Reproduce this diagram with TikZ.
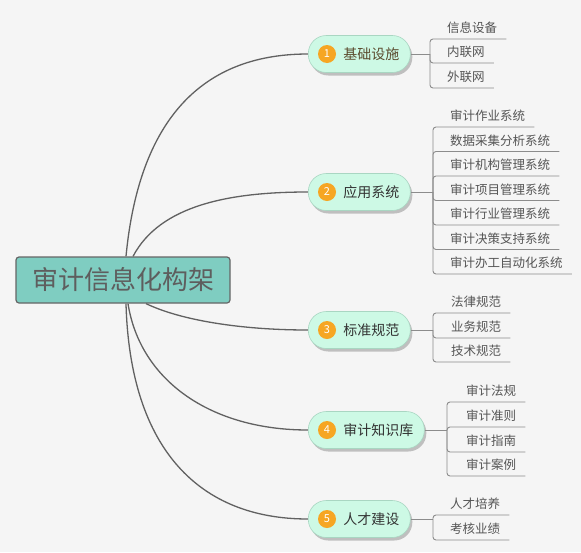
\documentclass[tikz,border=0pt]{standalone}
\usepackage{fontspec}
\setmainfont{Noto Sans CJK SC}
\usetikzlibrary{calc,shadows,backgrounds}
\definecolor{bgcol}{HTML}{F5F5F5}
\definecolor{rootfill}{HTML}{7FCDC1}
\definecolor{rootborder}{HTML}{666666}
\definecolor{roottext}{HTML}{5E5E5E}
\definecolor{pillfill}{HTML}{CDF9E5}
\definecolor{pillborder}{HTML}{A9D6C2}
\definecolor{pilltext}{HTML}{333333}
\definecolor{pilltextA}{HTML}{5B4B2E}
\definecolor{numfill}{HTML}{F6A623}
\definecolor{leaftext}{HTML}{555555}
\definecolor{trunkcol}{HTML}{616161}
\definecolor{twigcol}{HTML}{8C8C8C}
\begin{document}
\begin{tikzpicture}[x=1pt,y=-1pt,
  rootbox/.style={draw=rootborder, line width=1.2pt, fill=rootfill, rounded corners=3pt,
    minimum width=214pt, minimum height=46pt, inner sep=0pt,
    font=\fontsize{26}{30}\selectfont, text=roottext},
  pill/.style={draw=pillborder, line width=0.6pt, fill=pillfill, rounded corners=18pt,
    minimum height=37pt, inner xsep=11pt, anchor=west,
    font=\fontsize{14}{16}\selectfont, text=pilltext,
    drop shadow={shadow xshift=2pt, shadow yshift=-3pt, opacity=0.22, fill=black}},
  numdot/.style={circle, fill=numfill, minimum size=18pt, inner sep=0pt, text=white,
    font=\fontsize{11}{12}\selectfont},
  leaf/.style={anchor=west, inner sep=0pt, font=\fontsize{12.5}{14}\selectfont, text=leaftext},
  trunk/.style={draw=trunkcol, line width=1.3pt},
  twig/.style={draw=twigcol, line width=0.9pt, rounded corners=3pt},
]
\useasboundingbox (0,0) rectangle (581,552);

% root
\node[rootbox] (root) at (123,280) {审计信息化构架};

% branch pills
\node[pill, text=pilltextA] (p1) at (308,54) {\hspace*{24pt}基础设施};
\node[pill] (p2) at (308,192) {\hspace*{24pt}应用系统};
\node[pill] (p3) at (308,330) {\hspace*{24pt}标准规范};
\node[pill] (p4) at (308,430) {\hspace*{24pt}审计知识库};
\node[pill] (p5) at (308,519) {\hspace*{24pt}人才建设};

\node[numdot] (n1) at (327,54) {1};
\node[numdot] (n2) at (327,192) {2};
\node[numdot] (n3) at (327,330) {3};
\node[numdot] (n4) at (327,430) {4};
\node[numdot] (n5) at (327,519) {5};

% bracket points
\coordinate (b1) at (430,54);
\coordinate (b2) at (433,192);
\coordinate (b3) at (433,330);
\coordinate (b4) at (447,430);
\coordinate (b5) at (433,519);

\begin{scope}[on background layer]
\fill[bgcol] (0,0) rectangle (581,552);
\draw[trunk] ([xshift=3pt]root.north) .. controls (140,110) and (210,54) .. (p1.west);
\draw[trunk] ([xshift=10pt]root.north) .. controls (160,205) and (230,192) .. (p2.west);
\draw[trunk] ([xshift=23pt]root.south) .. controls (180,320) and (240,330) .. (p3.west);
\draw[trunk] ([xshift=5pt]root.south) .. controls (140,380) and (210,430) .. (p4.west);
\draw[trunk] ([xshift=3pt]root.south) .. controls (130,450) and (200,519) .. (p5.west);
\end{scope}

\draw[twig] (p1.east) -- (b1);
\draw[twig] (p2.east) -- (b2);
\draw[twig] (p3.east) -- (b3);
\draw[twig] (p4.east) -- (b4);
\draw[twig] (p5.east) -- (b5);

% leaves of branch 1
\foreach \i/\y/\t in {1/39/信息设备, 2/63/内联网, 3/88/外联网}{
  \node[leaf] (la\i) at (447,\y-11) {\t};
  \draw[twig] (b1) |- ($(la\i.east)+(9,11)$);
}
% leaves of branch 2
\foreach \i/\y/\t in {1/127/审计作业系统, 2/151.5/数据采集分析系统, 3/176/审计机构管理系统,
  4/200.5/审计项目管理系统, 5/225/审计行业管理系统, 6/249.5/审计决策支持系统, 7/274/审计办工自动化系统}{
  \node[leaf] (lb\i) at (450,\y-11) {\t};
  \draw[twig] (b2) |- ($(lb\i.east)+(9,11)$);
}
% leaves of branch 3
\foreach \i/\y/\t in {1/313/法律规范, 2/338/业务规范, 3/362/技术规范}{
  \node[leaf] (lc\i) at (451,\y-11) {\t};
  \draw[twig] (b3) |- ($(lc\i.east)+(9,11)$);
}
% leaves of branch 4
\foreach \i/\y/\t in {1/402/审计法规, 2/427/审计准则, 3/452/审计指南, 4/476/审计案例}{
  \node[leaf] (ld\i) at (466,\y-11) {\t};
  \draw[twig] (b4) |- ($(ld\i.east)+(9,11)$);
}
% leaves of branch 5
\foreach \i/\y/\t in {1/515/人才培养, 2/540/考核业绩}{
  \node[leaf] (le\i) at (450,\y-11) {\t};
  \draw[twig] (b5) |- ($(le\i.east)+(9,11)$);
}
\end{tikzpicture}
\end{document}
